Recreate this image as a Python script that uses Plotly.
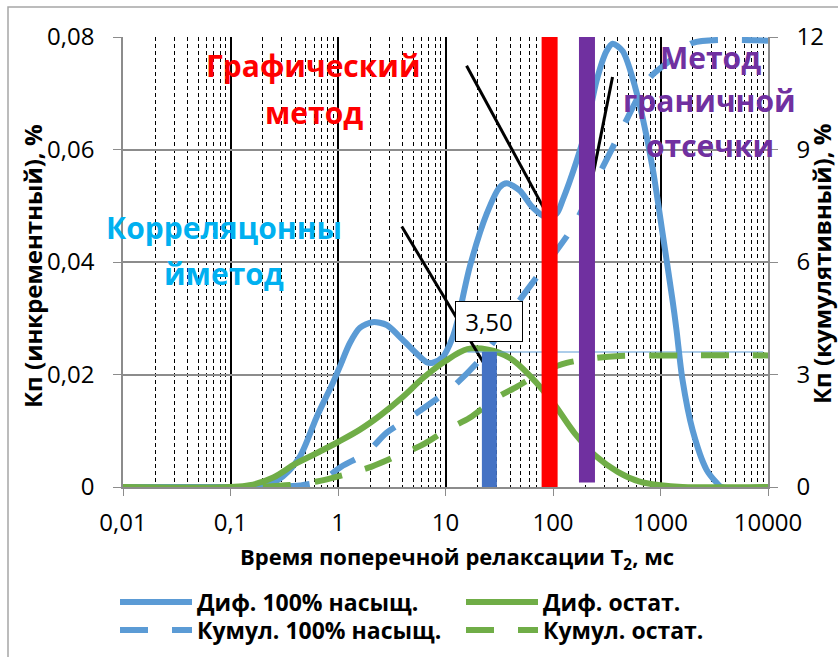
import plotly.graph_objects as go

# ---------------- data ----------------
# T2, ms  /  Kp increment, %  — differential, 100% saturated
dif100_t = [0.01, 0.1, 0.2, 0.307, 0.442, 0.635, 0.895, 1.04, 1.29, 1.60, 2.10, 2.84, 3.75,
            4.95, 6.68, 7.60, 9.42, 11.7, 13.0, 16.8, 24.2, 31.9, 37.1, 49.0, 64.6, 87.3,
            108, 123, 166, 205, 254, 315, 358, 444, 550, 681, 843, 1045, 1294, 1409, 1600,
            1983, 2677, 3314, 3690, 10000]
dif100_kp = [0, 0, 0, 0.0019, 0.0054, 0.0125, 0.0185, 0.0214, 0.0256, 0.0283, 0.0293, 0.0288,
             0.0267, 0.0244, 0.0222, 0.0221, 0.0231, 0.0267, 0.0297, 0.0391, 0.0486, 0.0533,
             0.0540, 0.0527, 0.0497, 0.0479, 0.0486, 0.0510, 0.0580, 0.0639, 0.0722, 0.0775,
             0.0788, 0.0775, 0.0727, 0.0657, 0.0568, 0.0451, 0.0332, 0.0279, 0.0191, 0.0102,
             0.0031, 0.0008, 0, 0]

# differential, residual
difost_t = [0.01, 0.1, 0.15, 0.25, 0.4, 0.63, 1.0, 1.6, 2.5, 4.0, 6.3, 10, 16, 25, 40, 63,
            100, 160, 250, 400, 630, 1000, 1600, 10000]
difost_kp = [0, 0, 0.0003, 0.0017, 0.0041, 0.0060, 0.0080, 0.0102, 0.0128, 0.0160, 0.0195,
             0.0224, 0.0245, 0.0244, 0.0229, 0.0195, 0.0150, 0.0095, 0.0055, 0.0027, 0.0010,
             0.0003, 0, 0]

# cumulative, 100% saturated (right axis)
cum100_t = [0.3, 0.442, 0.68, 1.08, 1.85, 2.84, 4.65, 7.6, 11.7, 20.8, 27.5, 49, 75, 152, 271,
            336, 444, 791, 1213, 1983, 10000]
cum100_kp = [0.01, 0.04, 0.15, 0.545, 0.917, 1.449, 1.847, 2.273, 2.671, 3.39, 3.84, 4.98, 5.70,
             6.92, 8.36, 8.89, 9.58, 10.91, 11.36, 11.84, 11.9]

# cumulative, residual (right axis)
cumost_t = [0.2, 0.356, 0.635, 1.16, 2.06, 3.6, 6.14, 10.3, 16.8, 29.9, 45.9, 80, 134, 254, 416,
            2300, 10000]
cumost_kp = [0.01, 0.053, 0.146, 0.332, 0.545, 0.837, 1.13, 1.528, 1.847, 2.379, 2.671, 3.07,
             3.309, 3.442, 3.495, 3.51, 3.51]

# cut-off markers (T2, ms) and the bound-water level
corr_cut_t = 25.6
graph_cut_t = 93
bound_cut_t = 207
bound_level = 3.6
bound_label = "3,50"
level_t = [16, 9000]

# pointer lines (T2, Kp increment)
ptr1_t, ptr1_kp = [3.92, 28.0], [0.0463, 0.0191]
ptr2_t, ptr2_kp = [15.7, 97.0], [0.0749, 0.0470]
ptr3_t, ptr3_kp = [358, 233], [0.0729, 0.0550]

x_tickvals = [0.01, 0.1, 1, 10, 100, 1000, 10000]
x_ticktext = ["0,01", "0,1", "1", "10", "100", "1000", "10000"]
y_tickvals = [0, 0.02, 0.04, 0.06, 0.08]
y_ticktext = ["0", "0,02", "0,04", "0,06", "0,08"]
y2_tickvals = [0, 3, 6, 9, 12]
y2_ticktext = ["0", "3", "6", "9", "12"]

# ---------------- layout geometry ----------------
W, H = 838, 657
L, R, T, B = 123, 768, 37, 487
PW, PH = R - L, B - T


def px(x):
    return (x - L) / PW


def py(y):
    return (B - y) / PH


BLUE = "#5B9BD5"
GREEN = "#70AD47"
FONT = "Open Sans"

fig = go.Figure()

# thin level line
fig.add_trace(go.Scatter(x=level_t, y=[bound_level, bound_level], yaxis="y2", mode="lines",
                         line=dict(color=BLUE, width=1), showlegend=False, hoverinfo="skip"))

fig.add_trace(go.Scatter(x=dif100_t, y=dif100_kp, mode="lines", name="Диф. 100% насыщ.",
                         legend="legend",
                         line=dict(color=BLUE, width=6, shape="spline", smoothing=0.8)))
fig.add_trace(go.Scatter(x=difost_t, y=difost_kp, mode="lines", name="Диф. остат.",
                         legend="legend",
                         line=dict(color=GREEN, width=6, shape="spline", smoothing=1)))
fig.add_trace(go.Scatter(x=cum100_t, y=cum100_kp, yaxis="y2", mode="lines",
                         name="Кумул. 100% насыщ.", legend="legend2",
                         line=dict(color=BLUE, width=6, dash="28px,24px", shape="spline",
                                   smoothing=0.8)))
fig.add_trace(go.Scatter(x=cumost_t, y=cumost_kp, yaxis="y2", mode="lines", name="Кумул. остат.",
                         legend="legend2",
                         line=dict(color=GREEN, width=6, dash="28px,24px", shape="spline",
                                   smoothing=0.8)))

# vertical cut-off bars
fig.add_trace(go.Scatter(x=[corr_cut_t, corr_cut_t], y=[0, bound_level], yaxis="y2",
                         mode="lines", line=dict(color="#4472C4", width=15),
                         showlegend=False, hoverinfo="skip"))
fig.add_trace(go.Scatter(x=[graph_cut_t, graph_cut_t], y=[0, 12], yaxis="y2", mode="lines",
                         line=dict(color="#FF0000", width=16), showlegend=False,
                         hoverinfo="skip"))
fig.add_trace(go.Scatter(x=[bound_cut_t, bound_cut_t], y=[0.12, 12], yaxis="y2", mode="lines",
                         line=dict(color="#7030A0", width=16), showlegend=False,
                         hoverinfo="skip"))

for tt, kk in [(ptr1_t, ptr1_kp), (ptr2_t, ptr2_kp), (ptr3_t, ptr3_kp)]:
    fig.add_trace(go.Scatter(x=tt, y=kk, mode="lines", line=dict(color="black", width=3),
                             showlegend=False, hoverinfo="skip"))

ann = []


def text(x, y, s, size, color, bold=True, angle=0, **kw):
    ann.append(dict(x=px(x), y=py(y), xref="paper", yref="paper", text=f"<b>{s}</b>" if bold else s,
                    showarrow=False, xanchor="center", yanchor="middle", textangle=angle,
                    font=dict(family=FONT, size=size, color=color), **kw))


text(313, 66, "Графический", 30, "#FF0000")
text(314, 113, "метод", 30, "#FF0000")
text(224, 228, "Корреляцонны", 30, "#00B0F0")
text(224, 273, "йметод", 30, "#00B0F0")
text(710, 58, "Метод", 30, "#7030A0")
text(709, 100, "граничной", 30, "#7030A0")
text(710, 145, "отсечки", 30, "#7030A0")
text(457, 558, "Время поперечной релаксации T<sub>2</sub>, мс", 22, "black")
text(32, 266, "Кп (инкрементный), %", 24, "black", angle=-90)
text(821, 264, "Кп (кумулятивный), %", 24, "black", angle=-90)
text(489, 321, "&nbsp;" + bound_label + "&nbsp;", 24, "black", bold=False, bgcolor="white",
     bordercolor="black", borderwidth=1, borderpad=3)

leg_common = dict(orientation="h", xanchor="left", yanchor="middle",
                  font=dict(family=FONT, size=23, color="black", weight="bold"),
                  itemwidth=72, entrywidth=259, bgcolor="rgba(0,0,0,0)")

fig.update_layout(
    width=W, height=H,
    margin=dict(l=L, r=W - R, t=T, b=H - B, autoexpand=False),
    paper_bgcolor="white", plot_bgcolor="white",
    font=dict(family=FONT, size=24, color="black"),
    annotations=ann,
    shapes=[dict(type="rect", xref="paper", yref="paper", x0=px(8), x1=px(845), y0=py(665),
                 y1=py(7), line=dict(color="#A6A6A6", width=1.5), layer="below")],
    legend=dict(x=px(115), y=py(602), **leg_common),
    legend2=dict(x=px(115), y=py(630), **leg_common),
    xaxis=dict(type="log", range=[-2, 4], tickmode="array", tickvals=x_tickvals,
               ticktext=x_ticktext, ticks="outside", ticklen=7, tickcolor="#8C8C8C",
               showline=True, linecolor="#8C8C8C", linewidth=1.5,
               showgrid=True, gridcolor="black", gridwidth=2,
               minor=dict(dtick="D1", showgrid=True, gridcolor="black", gridwidth=1,
                          griddash="4px,3px", ticks=""),
               ticklabelstandoff=6, tickfont=dict(size=24)),
    yaxis=dict(range=[0, 0.08], tickmode="array", tickvals=y_tickvals, ticktext=y_ticktext,
               ticks="outside", ticklen=8, tickcolor="#8C8C8C", showline=True,
               linecolor="#8C8C8C", linewidth=1.5, showgrid=True, gridcolor="#8C8C8C",
               gridwidth=1.5, zeroline=False, ticklabelstandoff=14, tickfont=dict(size=24)),
    yaxis2=dict(range=[0, 12], overlaying="y", side="right", tickmode="array",
                tickvals=y2_tickvals, ticktext=y2_ticktext, ticks="outside", ticklen=8,
                tickcolor="#8C8C8C", showline=True, linecolor="#8C8C8C", linewidth=1.5,
                showgrid=False, zeroline=False, ticklabelstandoff=14, tickfont=dict(size=24)),
)

fig.write_html("out.html")
